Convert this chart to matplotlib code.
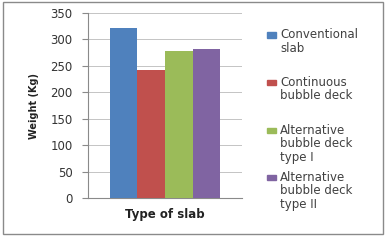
import matplotlib
matplotlib.use("Agg")
import matplotlib.pyplot as plt
from matplotlib.patches import Rectangle
import numpy as np

series = ["Conventional\nslab", "Continuous\nbubble deck", "Alternative\nbubble deck\ntype I", "Alternative\nbubble deck\ntype II"]
values = [322, 242, 278, 281]
colors = ["#4F81BD", "#C0504D", "#9BBB59", "#8064A2"]
yticks = [0, 50, 100, 150, 200, 250, 300, 350]

W, H = 387, 245
fig = plt.figure(figsize=(W / 100, H / 100), dpi=100)
fig.patches.append(Rectangle((3 / W, 1 - 234 / H), 380 / W, 232 / H, transform=fig.transFigure,
                             fill=False, edgecolor="#8a8a8a", linewidth=1.0))
ax = fig.add_axes([88 / W, 1 - 198 / H, 154 / W, 185 / H])

w = 0.18
n = len(values)
xs = (np.arange(n) - (n - 1) / 2) * w
for x, v, c, lab in zip(xs, values, colors, series):
    ax.bar(x, v, width=w, color=c, label=lab, zorder=3)

ax.set_xlim(-0.5, 0.5)
ax.set_ylim(0, 350)
ax.set_yticks(yticks)
ax.set_xticks([])
ax.yaxis.grid(True, color="#c4c4c4", linewidth=0.7, zorder=0)
for s in ["top", "right"]:
    ax.spines[s].set_visible(False)
ax.spines["left"].set_color("#8a8a8a")
ax.spines["bottom"].set_color("#8a8a8a")
ax.tick_params(axis="y", length=4, color="#8a8a8a", labelsize=8.5, labelcolor="#333333", pad=7)
ax.set_ylabel("Weight (Kg)", fontsize=7, fontweight="bold", color="#222222", labelpad=8)
ax.set_xlabel("Type of slab", fontsize=8.5, fontweight="bold", color="#222222", labelpad=7)

# Legend drawn manually to mimic Excel's evenly distributed entries
entry_tops = [35, 82, 130, 177]  # y pixel centre of first line of each entry
for lab, c, yt in zip(series, colors, entry_tops):
    fig.patches.append(Rectangle((267 / W, 1 - (yt + 2.5) / H), 9 / W, 5 / H,
                                 transform=fig.transFigure, color=c))
    fig.text(280 / W, 1 - (yt - 6.5) / H, lab, fontsize=8.5, color="#404040",
             va="top", ha="left", linespacing=1.08)

fig.savefig("out.png", dpi=100)
